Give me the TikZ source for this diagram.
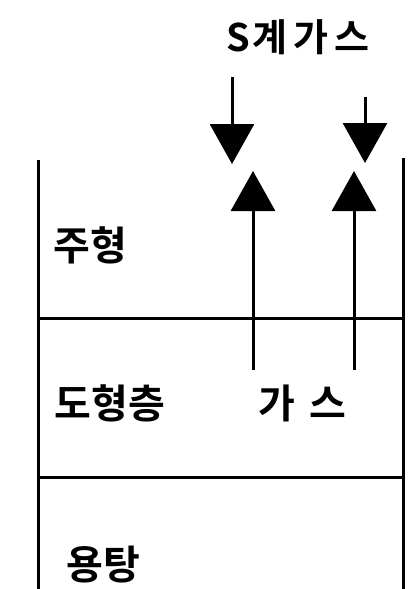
\documentclass[tikz,border=0pt]{standalone}
\usepackage{fontspec}
\newfontfamily\kr{Noto Sans CJK KR}[BoldFont={* Bold}]
\usetikzlibrary{arrows.meta}
\begin{document}
\begin{tikzpicture}[x=1pt,y=-1pt,
  wall/.style={line width=3pt},
  flow/.style={line width=3pt,-{Triangle[width=44pt,length=40pt]}},
  lbl/.style={font=\kr\bfseries\fontsize{40}{40}\selectfont, inner sep=0pt}]
\useasboundingbox (0,0) rectangle (413,589);
% walls and layer boundaries
\draw[wall] (38,160) -- (38,589);
\draw[wall] (403,158) -- (403,589);
\draw[wall] (38,318) -- (403,318);
\draw[wall] (38,477) -- (403,477);
% labels
\node[lbl,font=\kr\bfseries\fontsize{38}{38}\selectfont] (sgas) at (298,37) {S\hspace{3pt}계\hspace{6pt}가\hspace{6pt}스};
\node[lbl] (mold) at (90,245) {주형};
\node[lbl] (coat) at (110,403) {도형층};
\node[lbl] (gas) at (302,403) {가\hspace{0.35em}스};
\node[lbl] (melt) at (103,565) {용탕};
% arrows
\coordinate (d1s) at (232,77);  \coordinate (d1e) at (232,164);
\coordinate (d2s) at (365,97);  \coordinate (d2e) at (365,163);
\coordinate (u1s) at (253,370); \coordinate (u1e) at (253,171);
\coordinate (u2s) at (354,370); \coordinate (u2e) at (354,171);
\draw[flow] (d1s) -- (d1e);
\draw[flow] (d2s) -- (d2e);
\draw[flow] (u1s) -- (u1e);
\draw[flow] (u2s) -- (u2e);
\end{tikzpicture}
\end{document}
